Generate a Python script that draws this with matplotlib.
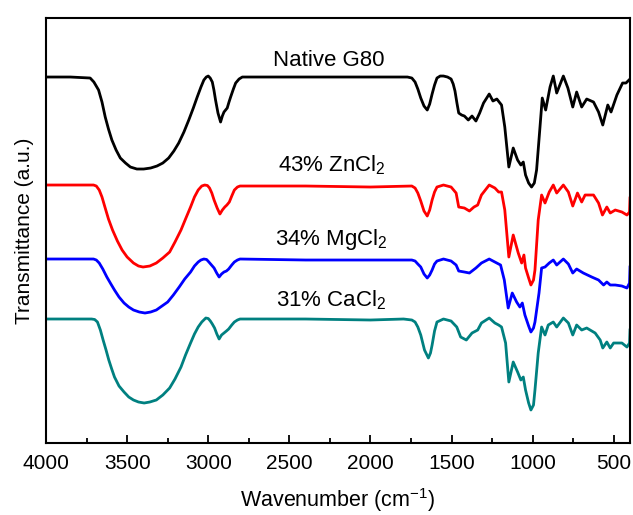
import numpy as np
import matplotlib
matplotlib.use("Agg")
import matplotlib.pyplot as plt
from matplotlib.ticker import MultipleLocator

plt.rcParams['font.family'] = ['Liberation Sans', 'DejaVu Sans']
plt.rcParams['mathtext.fontset'] = 'custom'
plt.rcParams['mathtext.rm'] = 'Liberation Sans'

# spectra (wavenumber, transmittance a.u. with offsets)
wn_native = [4000, 3850, 3728, 3705, 3676, 3655, 3635, 3615, 3594, 3568, 3542, 3510, 3480, 3440,
             3398, 3355, 3316, 3280, 3244, 3212, 3182, 3150, 3120, 3092, 3068, 3045, 3027, 3012,
             3000, 2988, 2975, 2965, 2955, 2940, 2924, 2913, 2903, 2893, 2883, 2872, 2862, 2845,
             2831, 2810, 2790, 2500, 2200, 2000, 1772,
             1745, 1725, 1708, 1690, 1670, 1650, 1635, 1620, 1605, 1590, 1570, 1550, 1525, 1503,
             1490, 1479, 1467, 1456, 1438, 1421, 1397, 1374, 1350, 1327,
             1303, 1268, 1245, 1221, 1192, 1172, 1147, 1120, 1093, 1073, 1058, 1044, 1025, 1007, 990,
             976, 955, 941, 920, 893, 873, 852, 811, 783, 753, 729, 698, 667, 625, 594, 568, 537, 517,
             481, 446, 425, 400]
t_native = [366, 366, 365, 361, 353, 341, 326, 314, 303, 293, 285, 280, 276, 274,
            274, 275, 277, 280, 285, 292, 300, 311, 323, 335, 346, 356, 363, 366,
            367, 365, 361, 353, 343, 330, 321, 327, 331, 333, 335, 341, 346, 354,
            360, 364, 366, 366, 366, 366, 366,
            365, 361, 354, 345, 337, 333, 339, 349, 358, 365, 367, 367, 366, 364,
            359, 352, 340, 330, 328, 327, 323, 327, 322, 330,
            340, 349, 342, 344, 338, 316, 276, 295, 283, 278, 281, 268, 260, 256, 260,
            273, 316, 345, 333, 356, 367, 350, 367, 355, 336, 351, 336, 344, 341, 331, 318, 338, 331,
            348, 360, 360, 364]

wn_zn = [4000, 3850, 3707, 3690, 3672, 3655, 3637, 3615, 3590, 3560, 3531, 3500, 3461, 3430,
         3402, 3360, 3320, 3280, 3238, 3205, 3168, 3140, 3109, 3085, 3062, 3040, 3022, 3005,
         2992, 2978, 2964, 2945, 2928, 2913, 2898, 2885, 2870, 2855, 2839, 2820, 2804, 2400, 2000,
         1745, 1725, 1708, 1690, 1670, 1650, 1635, 1620, 1605, 1590,
         1550, 1503, 1472, 1456, 1421, 1390, 1362, 1339, 1316, 1268, 1233, 1210, 1192, 1172,
         1147, 1120, 1089, 1068, 1054, 1044, 1025, 1011, 995, 986, 966, 945, 924, 898, 873, 852, 811, 780,
         753, 724, 698, 677, 625, 594, 570, 543, 522, 491, 450, 419, 403, 400]
t_zn = [258, 258, 258, 257, 253, 246, 236, 224, 213, 202, 193, 186, 180, 177,
        176, 177, 180, 185, 191, 201, 213, 224, 236, 246, 253, 257, 258, 257.5,
        255, 250, 243, 235, 229, 233, 236, 238, 241, 247, 253, 256, 257, 257, 256,
        257, 255, 250, 242, 232, 227, 233, 243, 251, 256,
        258, 256, 250, 236, 235, 232, 236, 238, 248, 258, 255, 251, 251, 233,
        186, 208, 190, 180, 188, 175, 165, 158, 163, 173, 223, 248, 240, 251, 258, 250, 258, 251,
        237, 250, 241, 248, 248, 240, 228, 236, 230, 233, 231, 228, 231, 245]

wn_mg = [4000, 3850, 3707, 3690, 3672, 3650, 3625, 3600, 3578, 3550, 3519, 3490, 3461, 3425,
         3390, 3355, 3320, 3285, 3250, 3215, 3179, 3145, 3109, 3085, 3062, 3045, 3027, 3010,
         2996, 2980, 2964, 2948, 2933, 2918, 2903, 2888, 2874, 2855, 2839, 2820, 2804, 2400, 2000,
         1745, 1725, 1708, 1690, 1670, 1650, 1635, 1620, 1605, 1590,
         1550, 1503, 1472, 1456, 1421, 1390, 1350, 1316, 1268, 1233, 1198, 1175, 1151, 1126,
         1099, 1079, 1064, 1048, 1025, 1011, 995, 986, 961, 945, 924, 898, 873, 852, 811, 780, 753, 729,
         688, 636, 594, 563, 543, 522, 491, 450, 419, 403, 400]
t_mg = [184, 184, 184, 183, 180, 174, 166, 159, 153, 146, 140, 136, 133, 131,
        130, 131, 133, 137, 141, 148, 156, 164, 171, 177, 181, 183, 184, 183.5,
        181, 178, 175, 170, 166, 169, 171, 172, 174, 178, 181, 183, 184, 183, 183,
        183, 182, 179, 176, 169, 165, 168, 173, 179, 182,
        184, 182, 178, 172, 171, 170, 175, 180, 184, 181, 178, 163, 135, 150,
        141, 136, 140, 128, 117, 111, 115, 121, 150, 175, 176, 180, 183, 178, 184, 179, 170, 174,
        170, 166, 163, 158, 161, 158, 158, 157, 155, 160, 176]

wn_ca = [4000, 3850, 3719, 3700, 3683, 3665, 3648, 3630, 3613, 3595, 3578, 3550, 3519, 3490,
         3461, 3430, 3395, 3360, 3320, 3280, 3238, 3205, 3168, 3140, 3109, 3085, 3062, 3040,
         3015, 3000, 2987, 2975, 2961, 2947, 2933, 2918, 2903, 2888, 2874, 2855, 2839, 2820,
         2804, 2400, 2000, 1796,
         1745, 1725, 1708, 1690, 1667, 1643, 1630, 1620, 1605, 1590,
         1550, 1503, 1468, 1444, 1409, 1374, 1339, 1316, 1268, 1233, 1210,
         1192, 1167, 1147, 1120, 1093, 1073, 1058, 1044, 1025, 1011, 995, 986, 966, 945, 924, 904, 873,
         852, 811, 780, 753, 729, 698, 667, 615, 584, 568, 543, 522, 501, 450, 419, 403, 400]
t_ca = [124, 124, 124, 123.5, 121, 113, 103, 93, 83, 74, 66, 57, 51, 46,
        43, 41, 40, 41, 43, 48, 55, 64, 76, 88, 100, 109, 116, 121,
        125, 124.5, 122, 119, 115, 109, 104, 108, 110, 112, 114, 118, 121, 123,
        124, 124, 123, 124,
        123, 121, 116, 108, 93, 85, 90, 98, 112, 121,
        124, 122, 116, 106, 103, 110, 113, 120, 125, 120, 118,
        116, 100, 61, 81, 71, 63, 66, 53, 40, 33, 38, 53, 90, 116, 108, 118, 121,
        116, 125, 120, 108, 118, 113, 115, 110, 103, 95, 101, 95, 100, 100, 96, 100, 113]

labels = ["Native G80", "43% ZnCl$\\mathregular{_2}$", "34% MgCl$\\mathregular{_2}$",
          "31% CaCl$\\mathregular{_2}$"]
label_pos = [(2256, 383), (2240, 278), (2240, 204), (2240, 143)]
colors = ["black", "#ff0000", "#0000ff", "#008080"]

fig = plt.figure(figsize=(6.33, 5.15), dpi=100)
ax = fig.add_axes([0.0727, 0.1398, 0.9226, 0.8252])

series = [(wn_native, t_native), (wn_zn, t_zn), (wn_mg, t_mg), (wn_ca, t_ca)]
for (w, t), c in zip(series, colors):
    ax.plot(w, t, color=c, lw=2.0, solid_joinstyle='round')

for lab, (x, y) in zip(labels, label_pos):
    ax.text(x, y, lab, ha='center', va='center', fontsize=16)

ax.set_xlim(4000, 400)
ax.set_ylim(0, 425)
ax.xaxis.set_major_locator(MultipleLocator(500))
ax.xaxis.set_minor_locator(MultipleLocator(250))
ax.set_yticks([])
ax.tick_params(axis='x', which='major', direction='in', length=6, width=1.3, labelsize=15, pad=8)
ax.tick_params(axis='x', which='minor', direction='in', length=3.5, width=1.3)
for s in ax.spines.values():
    s.set_linewidth(1.5)

ax.set_xlabel("Wavenumber (cm$^{\\mathregular{-1}}$)", fontsize=15.5, labelpad=9)
ax.set_ylabel("Transmittance (a.u.)", fontsize=15, labelpad=9)

fig.savefig("out.png", dpi=100)
